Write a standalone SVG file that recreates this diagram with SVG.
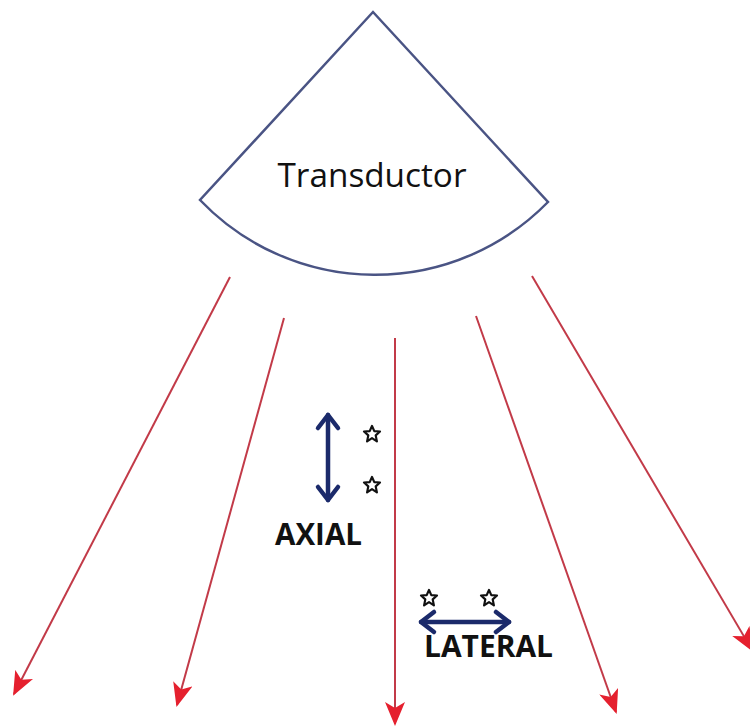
<svg xmlns="http://www.w3.org/2000/svg" width="750" height="727" viewBox="0 0 750 727">
  <style>
    .beam { stroke: #c23a48; stroke-width: 2; fill: none; }
    .dir { stroke: #1b2a6b; stroke-width: 4.5; fill: none; stroke-linecap: round; stroke-linejoin: round; }
    .star { fill: #ffffff; stroke: #111; stroke-width: 2.2; stroke-linejoin: round; }
    .lbl { font-family: "Open Sans", "Liberation Sans", sans-serif; fill: #111; }
  </style>
  <defs>
    <marker id="redhead" viewBox="0 0 24 20" refX="22" refY="10" markerWidth="24" markerHeight="20" markerUnits="userSpaceOnUse" orient="auto">
      <path d="M0,0 L24,10 L0,20 L6,10 Z" fill="#e5202e"/>
    </marker>
    <path id="starshape" d="M0,-8 L2.3,-2.9 L8,-2.5 L3.7,1.4 L4.9,7.4 L0,4.2 L-4.9,7.4 L-3.7,1.4 L-8,-2.5 L-2.3,-2.9 Z"/>
  </defs>
  <rect width="750" height="727" fill="#ffffff"/>

  <!-- transducer sector -->
  <g id="transductor">
    <path d="M373,12 L548,202 A242,242 0 0 1 200,200 Z" fill="#ffffff" stroke="#4a5484" stroke-width="2.5" stroke-linejoin="miter"/>
    <text class="lbl" x="372" y="187" font-size="32" text-anchor="middle" textLength="189" lengthAdjust="spacingAndGlyphs">Transductor</text>
  </g>

  <!-- ultrasound beams -->
  <g id="beams">
    <line class="beam" x1="230" y1="277" x2="14" y2="694" marker-end="url(#redhead)"/>
    <line class="beam" x1="284" y1="318" x2="177" y2="705" marker-end="url(#redhead)"/>
    <line class="beam" x1="395" y1="338" x2="395" y2="724" marker-end="url(#redhead)"/>
    <line class="beam" x1="476" y1="316" x2="616" y2="712" marker-end="url(#redhead)"/>
    <line class="beam" x1="532" y1="276" x2="752" y2="650" marker-end="url(#redhead)"/>
  </g>

  <!-- axial resolution -->
  <g id="axial">
    <line class="dir" x1="328" y1="415" x2="328" y2="500"/>
    <polyline class="dir" points="318,428 328,415 338,428"/>
    <polyline class="dir" points="318,487 328,500 338,487"/>
    <use href="#starshape" class="star" x="372" y="434"/>
    <use href="#starshape" class="star" x="372" y="485"/>
    <text class="lbl" x="318.5" y="545" font-size="30" font-weight="bold" text-anchor="middle" textLength="87" lengthAdjust="spacingAndGlyphs">AXIAL</text>
  </g>

  <!-- lateral resolution -->
  <g id="lateral">
    <line class="dir" x1="421" y1="622" x2="509" y2="622"/>
    <polyline class="dir" points="434,612 421,622 434,632"/>
    <polyline class="dir" points="496,612 509,622 496,632"/>
    <use href="#starshape" class="star" x="429" y="598"/>
    <use href="#starshape" class="star" x="489" y="598"/>
    <text class="lbl" x="488.5" y="657" font-size="30" font-weight="bold" text-anchor="middle" textLength="129" lengthAdjust="spacingAndGlyphs">LATERAL</text>
  </g>
</svg>
